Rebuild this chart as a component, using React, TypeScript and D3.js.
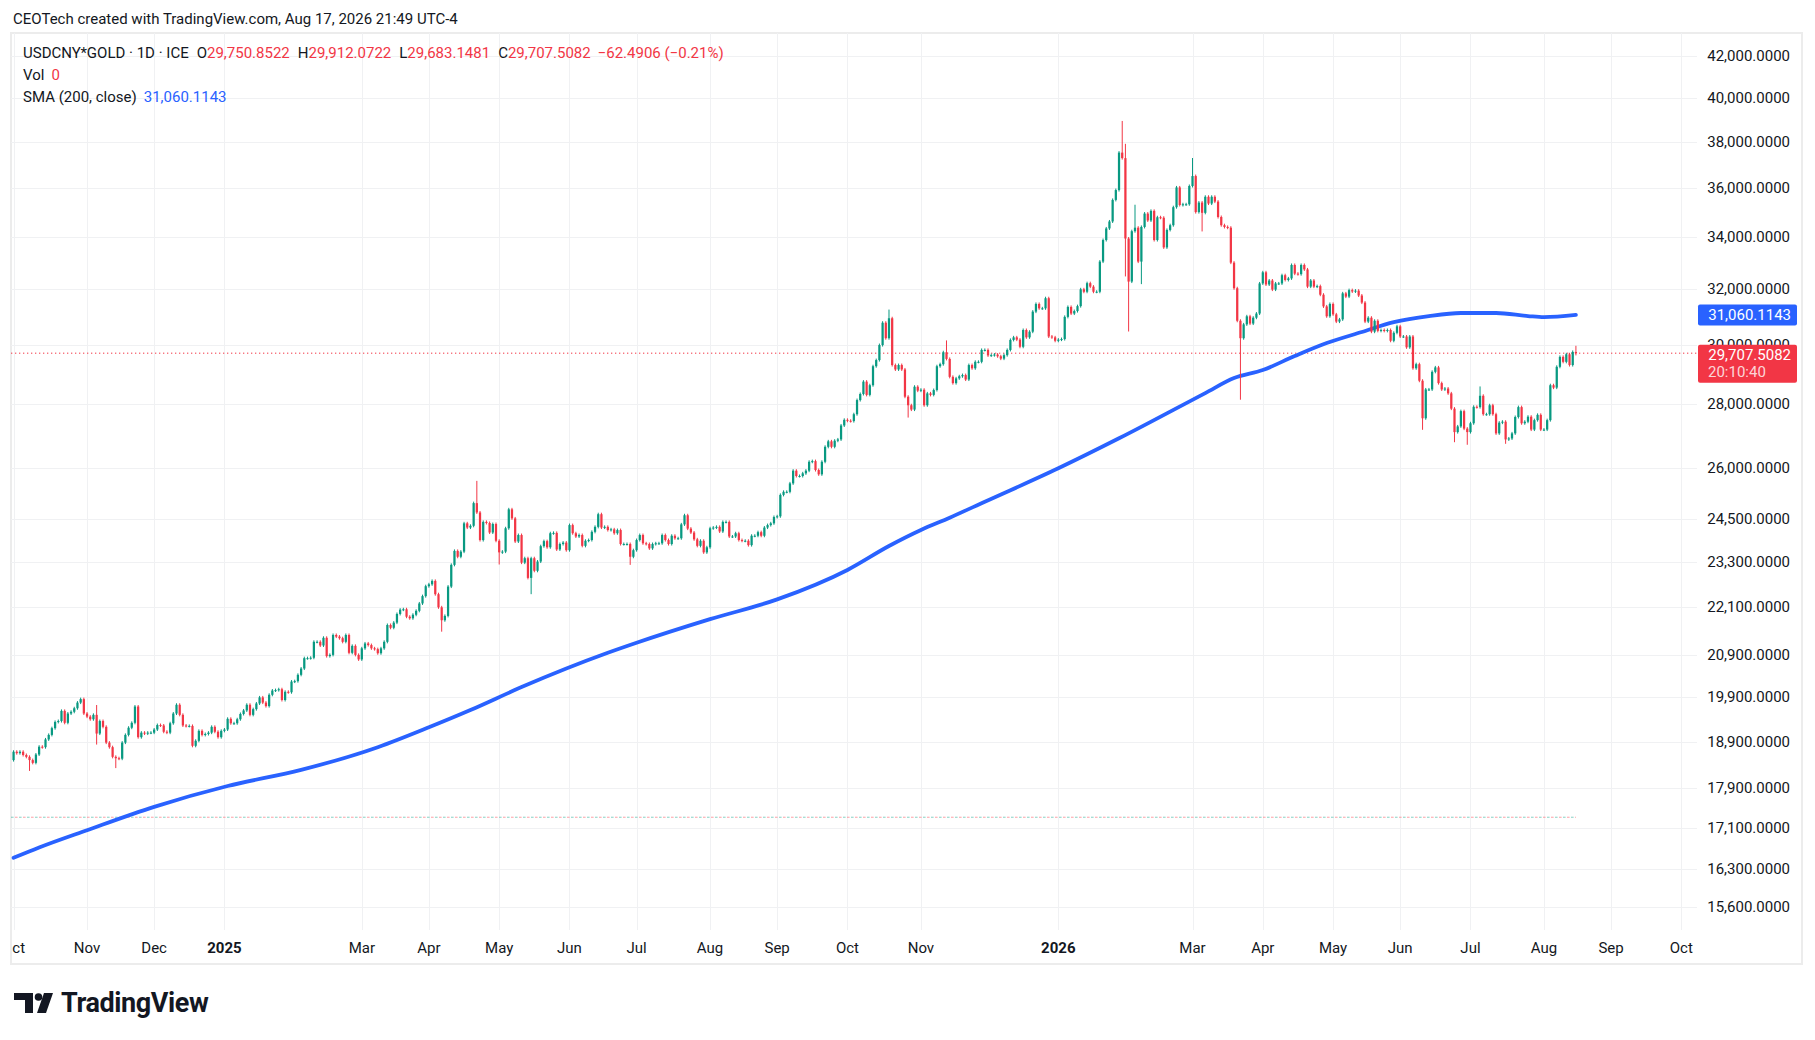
import React, { useRef, useEffect } from 'react';
import * as d3 from 'd3';

const WIDTH = 1815;
const HEIGHT = 1040;

// daily closes (weekday bars), one array per month
const oct2024 = [18680, 18650, 18680, 18610, 18570, 18500, 18440, 18620, 18790, 18780, 18950, 19050, 19200, 19340, 19360, 19590, 19320, 19530, 19570, 19650, 19780, 19860, 19530];
const nov2024 = [19460, 19400, 19500, 19080, 19360, 19230, 18880, 18780, 18570, 18540, 18530, 18880, 19050, 19210, 19320, 19690, 19000, 19100, 19080, 19100, 19100];
const dec2024 = [19170, 19270, 19260, 19120, 19100, 19310, 19530, 19730, 19500, 19260, 19250, 19250, 18810, 18920, 19140, 19050, 19070, 19100, 19230, 19120, 19000, 19140];
const jan2025 = [19170, 19410, 19310, 19310, 19400, 19520, 19600, 19730, 19500, 19630, 19760, 19900, 19780, 19700, 19960, 20060, 20070, 20090, 19840, 20030, 20020, 20270, 20280];
const feb2025 = [20430, 20580, 20830, 20830, 20840, 21230, 21230, 21140, 21330, 20880, 20910, 21400, 21360, 21320, 21230, 21400, 20960, 21130, 20910, 20800];
const mar2025 = [21070, 21190, 21150, 21070, 21050, 20950, 21070, 21230, 21650, 21580, 21710, 21930, 22040, 22050, 21860, 21820, 21910, 22010, 22200, 22390, 22650];
const apr2025 = [22700, 22790, 22440, 22100, 21770, 21880, 22640, 23220, 23600, 23440, 23580, 24370, 24250, 24300, 24950, 24680, 23900, 24410, 24380, 24110, 24350, 23880];
const may2025 = [23560, 23580, 24230, 24770, 24510, 23860, 24040, 23280, 23400, 22870, 23400, 23060, 23310, 23730, 23870, 23700, 24090, 24100, 23640, 23790, 23830, 23620];
const jun2025 = [24320, 24090, 24000, 24040, 23740, 23880, 23900, 24130, 24270, 24630, 24250, 24270, 24180, 24200, 24090, 24180, 23790, 23790, 23790, 23440, 23620];
const jul2025 = [23900, 24040, 23810, 23790, 23670, 23790, 23810, 23810, 24040, 23900, 23790, 24020, 23950, 23950, 24340, 24600, 24220, 24110, 23920, 23740, 23880, 23560, 23700];
const aug2025 = [24230, 24250, 24270, 24140, 24410, 24410, 24000, 24000, 24090, 23900, 23880, 23880, 23760, 24020, 24020, 24120, 24020, 24250, 24320, 24370, 24550];
const sep2025 = [24570, 25190, 25280, 25280, 25530, 25910, 25750, 25750, 25830, 25910, 26180, 26200, 25930, 25800, 26180, 26640, 26810, 26640, 26830, 26870, 27310, 27490];
const oct2025 = [27460, 27450, 27670, 28130, 28330, 28740, 28300, 28620, 29260, 29470, 29990, 30780, 30230, 30940, 29300, 29150, 29300, 29150, 28240, 27960, 27820, 28570, 28440];
const nov2025 = [28470, 27960, 28350, 28300, 28460, 29260, 29330, 29740, 29510, 28900, 28690, 28850, 28920, 28960, 28810, 29300, 29190, 29410, 29410, 29820];
const dec2025 = [29820, 29630, 29640, 29660, 29600, 29520, 29640, 29820, 30170, 30260, 30180, 29930, 30520, 30260, 30460, 31180, 31460, 31300, 31300, 31670, 30290, 30260, 30140];
const jan2026 = [30180, 30200, 30990, 31350, 31110, 31200, 31380, 32000, 31910, 32230, 32100, 31910, 31910, 33050, 33890, 34350, 34630, 35510, 35920, 37520, 37280, 33950];
const feb2026 = [32290, 34240, 34380, 33050, 34410, 34950, 34670, 35060, 33890, 34800, 34780, 33600, 34290, 34480, 35210, 36030, 35300, 35330, 35330, 36090];
const mar2026 = [36510, 35010, 35400, 34980, 35640, 35360, 35640, 35440, 34810, 34480, 34410, 34380, 33010, 32040, 30850, 30230, 30720, 31010, 30750, 30960, 31110, 32220];
const apr2026 = [32640, 32180, 32330, 31990, 32220, 32220, 32530, 32350, 32410, 32920, 32590, 32570, 32920, 32750, 32100, 32330, 32100, 32120, 31800, 31370, 31010, 31460];
const may2026 = [31080, 30820, 30900, 31850, 31730, 31970, 31920, 31950, 31770, 31510, 30820, 30960, 30460, 30850, 30490, 30520, 30490, 30520, 30140, 30420, 30650];
const jun2026 = [30290, 30290, 29910, 30290, 29190, 29330, 28770, 27540, 28480, 28480, 29070, 29220, 28690, 28480, 28510, 28350, 27850, 27100, 27280, 27770, 27210, 27100];
const jul2026 = [27380, 27910, 27900, 28270, 27670, 27670, 27960, 27670, 27060, 27400, 27430, 26870, 26900, 27060, 27580, 27900, 27380, 27430, 27590, 27180, 27480, 27650, 27180];
const aug2026 = [27180, 27480, 28620, 28540, 29240, 29580, 29410, 29670, 29300, 29750.8522, 29707.5082];

const monthCloses: [string, number[]][] = [
  ["2024-10", oct2024], ["2024-11", nov2024], ["2024-12", dec2024],
  ["2025-01", jan2025], ["2025-02", feb2025], ["2025-03", mar2025], ["2025-04", apr2025],
  ["2025-05", may2025], ["2025-06", jun2025], ["2025-07", jul2025], ["2025-08", aug2025],
  ["2025-09", sep2025], ["2025-10", oct2025], ["2025-11", nov2025], ["2025-12", dec2025],
  ["2026-01", jan2026], ["2026-02", feb2026], ["2026-03", mar2026], ["2026-04", apr2026],
  ["2026-05", may2026], ["2026-06", jun2026], ["2026-07", jul2026], ["2026-08", aug2026],
];

const firstOpen = 18500;

// wicks that stand out in the picture
const wicks: { date: string; high?: number; low?: number }[] = [
  { date: "2024-10-08", low: 18300 },
  { date: "2024-11-06", high: 19690, low: 18870 },
  { date: "2024-11-14", low: 18360 },
  { date: "2025-04-07", low: 21520 },
  { date: "2025-04-22", high: 25560 },
  { date: "2025-05-01", low: 23270 },
  { date: "2025-05-15", low: 22480 },
  { date: "2025-06-27", low: 23260 },
  { date: "2025-10-20", high: 31200 },
  { date: "2025-10-28", low: 27610 },
  { date: "2025-11-13", high: 30100 },
  { date: "2026-01-29", high: 38860 },
  { date: "2026-01-30", high: 37840, low: 32540 },
  { date: "2026-02-02", low: 30520 },
  { date: "2026-02-04", high: 35250 },
  { date: "2026-02-06", low: 32250 },
  { date: "2026-03-02", high: 37220 },
  { date: "2026-03-05", low: 34290 },
  { date: "2026-03-23", low: 28190 },
  { date: "2026-06-10", low: 27220 },
  { date: "2026-06-24", low: 26830 },
  { date: "2026-06-30", low: 26750 },
  { date: "2026-07-06", high: 28530 },
  { date: "2026-07-16", low: 26780 },
  { date: "2026-08-17", high: 29912.0722, low: 29683.1481 },
];

// SMA(200)
const smaDates = ["2024-10-01", "2024-10-11", "2024-11-01", "2024-12-02", "2025-01-02", "2025-02-04", "2025-03-10", "2025-04-01", "2025-04-18", "2025-05-12", "2025-06-18", "2025-07-01", "2025-08-01", "2025-09-01", "2025-10-01", "2025-10-20", "2025-11-03", "2025-11-14", "2025-12-01", "2026-01-01", "2026-01-28", "2026-03-06", "2026-03-19", "2026-04-01", "2026-04-15", "2026-04-29", "2026-05-14", "2026-05-28", "2026-06-12", "2026-06-26", "2026-07-13", "2026-07-27", "2026-08-03", "2026-08-17"];
const smaValues = [16510, 16710, 17050, 17520, 17950, 18290, 18780, 19220, 19610, 20140, 20960, 21206, 21797, 22305, 23083, 23734, 24180, 24529, 24990, 25982, 26905, 28360, 28860, 29130, 29610, 30060, 30450, 30800, 31020, 31130, 31130, 31020, 30980, 31060.1143];

const priceTicks = [42000, 40000, 38000, 36000, 34000, 32000, 30000, 28000, 26000, 24500, 23300, 22100, 20900, 19900, 18900, 17900, 17100, 16300, 15600];
const monthTicks = ["2024-10", "2024-11", "2024-12", "2025-01", "2025-03", "2025-04", "2025-05", "2025-06", "2025-07", "2025-08", "2025-09", "2025-10", "2025-11", "2026-01", "2026-03", "2026-04", "2026-05", "2026-06", "2026-07", "2026-08", "2026-09", "2026-10"];
const monthLabels = ["Oct", "Nov", "Dec", "2025", "Mar", "Apr", "May", "Jun", "Jul", "Aug", "Sep", "Oct", "Nov", "2026", "Mar", "Apr", "May", "Jun", "Jul", "Aug", "Sep", "Oct"];

const lastOpen = 29750.8522;
const lastHigh = 29912.0722;
const lastLow = 29683.1481;
const lastClose = 29707.5082;
const lastChange = -62.4906;
const lastChangePct = -0.21;
const smaLast = 31060.1143;
const volLineLevel = 17309;

const UP = "#089981";
const DOWN = "#f23645";
const BLUE = "#2962ff";
const TEXT = "#131722";
const GRID = "#f0f1f3";
const FONT = "Roboto, 'Noto Sans', sans-serif";
const FS = 15;

function weekdays(from: string, to: string): string[] {
  const out: string[] = [];
  const d = new Date(from + "T00:00:00Z");
  const end = new Date(to + "T00:00:00Z");
  while (d <= end) {
    const w = d.getUTCDay();
    if (w !== 0 && w !== 6) out.push(d.toISOString().slice(0, 10));
    d.setUTCDate(d.getUTCDate() + 1);
  }
  return out;
}

type Bar = { date: string; i: number; open: number; high: number; low: number; close: number };

function buildBars(calendar: string[]): Bar[] {
  const wickMap = new Map(wicks.map(w => [w.date, w]));
  const bars: Bar[] = [];
  let prev = firstOpen;
  monthCloses.forEach(([key, closes]) => {
    const days = calendar.filter(d => d.startsWith(key));
    closes.forEach((close, k) => {
      const date = days[k];
      const w = wickMap.get(date);
      const open = prev;
      const high = Math.max(open, close, w?.high ?? 0);
      const low = Math.min(open, close, w?.low ?? Infinity);
      bars.push({ date, i: calendar.indexOf(date), open, high, low, close });
      prev = close;
    });
  });
  return bars;
}

const fmt = (v: number) => d3.format(",.4f")(v);

type D3Svg = d3.Selection<SVGSVGElement, unknown, null, undefined>;

function drawChart(svg: D3Svg) {
  svg.selectAll("*").remove();

  const calendar = weekdays("2024-10-01", "2026-10-30");
  const bars = buildBars(calendar);

  const plot = { left: 11, right: 1697, top: 33, bottom: 930 };

  const x = d3.scaleLinear().domain([-0.8, 526.9]).range([plot.left, plot.right]);
  const y = d3.scaleLog().domain([15180, 43125]).range([plot.bottom, plot.top]);
  const step = x(1) - x(0);

  svg.append("rect").attr("width", WIDTH).attr("height", HEIGHT).attr("fill", "#fff");

  const defs = svg.append("defs");
  defs.append("clipPath").attr("id", "plot-clip")
    .append("rect")
    .attr("x", plot.left).attr("y", plot.top)
    .attr("width", plot.right - plot.left).attr("height", plot.bottom - plot.top);
  defs.append("clipPath").attr("id", "axis-clip")
    .append("rect")
    .attr("x", plot.left + 1).attr("y", plot.bottom)
    .attr("width", plot.right - plot.left).attr("height", 34);

  // header
  svg.append("text")
    .attr("x", 13).attr("y", 19)
    .attr("dominant-baseline", "central")
    .attr("font-family", FONT).attr("font-size", FS).attr("fill", TEXT)
    .text("CEOTech created with TradingView.com, Aug 17, 2026 21:49 UTC-4");

  // pane border
  svg.append("rect")
    .attr("x", 11).attr("y", 33)
    .attr("width", 1791).attr("height", 931)
    .attr("fill", "none").attr("stroke", "#ececec").attr("stroke-width", 2);

  // grid
  const monthIdx = monthTicks.map(m => calendar.findIndex(d => d.startsWith(m)));

  svg.append("g")
    .selectAll("line")
    .data(priceTicks)
    .join("line")
    .attr("x1", plot.left).attr("x2", plot.right)
    .attr("y1", d => Math.round(y(d)) + 0.5).attr("y2", d => Math.round(y(d)) + 0.5)
    .attr("stroke", GRID);

  svg.append("g")
    .selectAll("line")
    .data(monthIdx)
    .join("line")
    .attr("x1", d => Math.round(x(d)) + 0.5).attr("x2", d => Math.round(x(d)) + 0.5)
    .attr("y1", plot.top).attr("y2", plot.bottom)
    .attr("stroke", GRID);

  const plotG = svg.append("g").attr("clip-path", "url(#plot-clip)");

  // dashed red / teal volume line
  const lastX = x(bars[bars.length - 1].i);
  [["#22ab94", 0], ["#f7525f", 4]].forEach(([c, off]) => {
    plotG.append("line")
      .attr("x1", plot.left).attr("x2", lastX)
      .attr("y1", y(volLineLevel)).attr("y2", y(volLineLevel))
      .attr("stroke", c as string).attr("stroke-opacity", 0.55)
      .attr("stroke-dasharray", "2.6,5.4").attr("stroke-dashoffset", off as number);
  });

  // last price dotted line
  plotG.append("line")
    .attr("x1", plot.left).attr("x2", plot.right)
    .attr("y1", y(lastClose)).attr("y2", y(lastClose))
    .attr("stroke", DOWN).attr("stroke-dasharray", "1.3,2.7");

  // SMA line
  const smaPts = smaDates.map((d, k) => [calendar.indexOf(d), smaValues[k]] as [number, number]);
  const smaLine = d3.line<[number, number]>()
    .x(d => x(d[0]))
    .y(d => y(d[1]))
    .curve(d3.curveMonotoneX);
  plotG.append("path")
    .attr("d", smaLine(smaPts))
    .attr("fill", "none").attr("stroke", BLUE)
    .attr("stroke-width", 3.8).attr("stroke-linecap", "round");

  // candles
  const bw = step * 0.7;
  const candle = plotG.append("g")
    .selectAll("g")
    .data(bars)
    .join("g")
    .attr("fill", d => (d.close >= d.open ? UP : DOWN))
    .attr("stroke", d => (d.close >= d.open ? UP : DOWN));

  candle.append("line")
    .attr("x1", d => x(d.i)).attr("x2", d => x(d.i))
    .attr("y1", d => y(d.high) - 1.5)
    .attr("y2", d => y(d.low) + 1.5)
    .attr("stroke-width", 1);

  candle.append("rect")
    .attr("x", d => x(d.i) - bw / 2)
    .attr("y", d => y(Math.max(d.open, d.close)))
    .attr("width", bw)
    .attr("height", d => Math.max(1, Math.abs(y(d.open) - y(d.close))))
    .attr("stroke", "none");

  // price axis
  svg.append("g")
    .selectAll("text")
    .data(priceTicks)
    .join("text")
    .attr("x", 1790).attr("y", d => y(d))
    .attr("text-anchor", "end").attr("dominant-baseline", "central")
    .attr("font-family", FONT).attr("font-size", FS).attr("fill", TEXT)
    .text(d => fmt(d));

  // time axis
  svg.append("g")
    .attr("clip-path", "url(#axis-clip)")
    .selectAll("text")
    .data(monthIdx)
    .join("text")
    .attr("x", d => x(d)).attr("y", 948)
    .attr("text-anchor", "middle").attr("dominant-baseline", "central")
    .attr("font-family", FONT).attr("font-size", FS).attr("fill", TEXT)
    .attr("font-weight", (d, k) => (/^\d{4}$/.test(monthLabels[k]) ? 700 : 400))
    .text((d, k) => monthLabels[k]);

  // SMA price label
  const ys = y(smaLast);
  svg.append("rect")
    .attr("x", 1698).attr("y", ys - 10.5).attr("width", 99).attr("height", 21).attr("rx", 2)
    .attr("fill", BLUE);
  svg.append("text")
    .attr("x", 1791).attr("y", ys + 0.5)
    .attr("text-anchor", "end").attr("dominant-baseline", "central")
    .attr("font-family", FONT).attr("font-size", FS).attr("fill", "#fff")
    .text(fmt(smaLast));

  // last price label
  const yl = y(lastClose);
  svg.append("rect")
    .attr("x", 1698).attr("y", yl - 8.5).attr("width", 99).attr("height", 38).attr("rx", 2)
    .attr("fill", DOWN);
  svg.append("text")
    .attr("x", 1791).attr("y", yl + 2)
    .attr("text-anchor", "end").attr("dominant-baseline", "central")
    .attr("font-family", FONT).attr("font-size", FS).attr("fill", "#fff")
    .text(fmt(lastClose));
  svg.append("text")
    .attr("x", 1708).attr("y", yl + 18.5)
    .attr("text-anchor", "start").attr("dominant-baseline", "central")
    .attr("font-family", FONT).attr("font-size", FS).attr("fill", "#fff").attr("fill-opacity", 0.8)
    .text("20:10:40");

  // legend
  const legend = svg.append("g").attr("font-family", FONT).attr("font-size", FS);
  const l1 = legend.append("text").attr("x", 23).attr("y", 53).attr("dominant-baseline", "central");
  l1.append("tspan").attr("fill", TEXT).text("USDCNY*GOLD · 1D · ICE");
  const ohlc: [string, number][] = [["O", lastOpen], ["H", lastHigh], ["L", lastLow], ["C", lastClose]];
  ohlc.forEach(([k, v]) => {
    l1.append("tspan").attr("dx", 8).attr("fill", TEXT).text(k);
    l1.append("tspan").attr("fill", DOWN).text(fmt(v));
  });
  l1.append("tspan").attr("dx", 7).attr("fill", DOWN)
    .text(`${d3.format(".4f")(lastChange).replace("-", "−")} (${d3.format(".2f")(lastChangePct).replace("-", "−")}%)`);

  const l2 = legend.append("text").attr("x", 23).attr("y", 75).attr("dominant-baseline", "central");
  l2.append("tspan").attr("fill", TEXT).text("Vol");
  l2.append("tspan").attr("dx", 7).attr("fill", DOWN).text("0");

  const l3 = legend.append("text").attr("x", 23).attr("y", 97).attr("dominant-baseline", "central");
  l3.append("tspan").attr("fill", TEXT).text("SMA (200, close)");
  l3.append("tspan").attr("dx", 7).attr("fill", BLUE).text(fmt(smaLast));

  // TradingView logo
  const logo = svg.append("g").attr("fill", "#131722");
  logo.append("path").attr("d", "M14,993 H33 V1013 H25 V1000 H14 Z");
  logo.append("circle").attr("cx", 38.5).attr("cy", 997).attr("r", 3.8);
  logo.append("path").attr("d", "M44,993 H53 L46,1013 H37 Z");
  svg.append("text")
    .attr("x", 61).attr("y", 1003)
    .attr("dominant-baseline", "central")
    .attr("font-family", FONT).attr("font-size", 27).attr("font-weight", 700)
    .attr("fill", "#131722").attr("letter-spacing", -0.4)
    .text("TradingView");
}

export default function App() {
  const svgRef = useRef<SVGSVGElement>(null);

  useEffect(() => {
    if (svgRef.current) {
      drawChart(d3.select(svgRef.current));
    }
  }, []);

  return (
    <svg
      ref={svgRef}
      width={WIDTH}
      height={HEIGHT}
      style={{ position: 'absolute', left: 0, top: 0 }}
    />
  );
}
